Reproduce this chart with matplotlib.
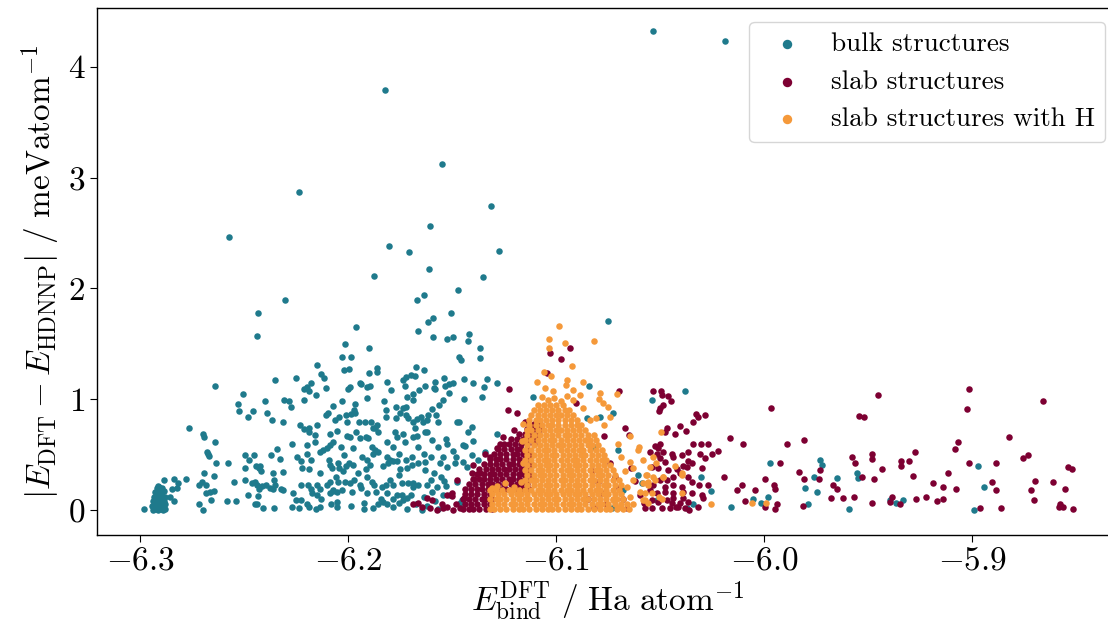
import numpy as np
import matplotlib.pyplot as plt

plt.rcParams['font.family'] = 'serif'
plt.rcParams['font.serif'] = ['cmr10']
plt.rcParams['mathtext.fontset'] = 'cm'
plt.rcParams['axes.formatter.use_mathtext'] = True

# (E_bind^DFT, |E_DFT - E_HDNNP|)
bulk_pts = [
    (-6.0536, 4.32), (-6.019, 4.23), (-6.1825, 3.79), (-6.155, 3.12), (-6.2238, 2.87), (-6.1315, 2.74),
    (-6.2575, 2.46), (-6.1609, 2.56), (-6.1805, 2.38), (-6.1277, 2.34), (-6.1709, 2.33), (-6.1613, 2.18),
    (-6.1353, 2.10), (-6.1878, 2.11), (-6.2305, 1.90), (-6.2435, 1.78), (-6.244, 1.57), (-6.1962, 1.65),
    (-6.0752, 1.71), (-6.1474, 1.99), (-6.1637, 1.94), (-6.1671, 1.90), (-6.1507, 1.78), (-6.1594, 1.73),
    (-6.1618, 1.70), (-6.1666, 1.62), (-6.1421, 1.59), (-6.1425, 1.53), (-6.1594, 1.56), (-6.1527, 1.54),
    (-6.1498, 1.56), (-6.2017, 1.50), (-6.1901, 1.46), (-6.1368, 1.46), (-6.2031, 1.38), (-6.1988, 1.38),
    (-6.1469, 1.38), (-6.1459, 1.35), (-6.1368, 1.37), (-6.2022, 1.26), (-6.1998, 1.27), (-6.1901, 1.24),
    (-6.1863, 1.28), (-6.1863, 1.25), (-6.1675, 1.29), (-6.1637, 1.26), (-6.1815, 1.16), (-6.1738, 1.17),
    (-6.1724, 1.20), (-6.17, 1.22), (-6.168, 1.21), (-6.1728, 1.12), (-6.1584, 1.16), (-6.1541, 1.19),
    (-6.1517, 1.14), (-6.1445, 1.18), (-6.1401, 1.15), (-6.1334, 1.18), (-6.1349, 1.11), (-6.194, 1.14),
    (-6.1911, 1.11), (-6.1897, 1.12), (-6.1993, 1.11), (-6.2002, 1.09), (-6.1796, 1.08), (-6.1661, 1.08),
    (-6.1632, 1.12), (-6.1589, 1.10), (-6.1517, 1.06), (-6.169, 1.05), (-6.2151, 1.31), (-6.2132, 1.23),
    (-6.2118, 1.19), (-6.2353, 1.17), (-6.2252, 1.19), (-6.218, 1.15), (-6.2199, 1.11), (-6.2214, 1.09),
    (-6.219, 1.07), (-6.2108, 1.10), (-6.2156, 1.04), (-6.2642, 1.12), (-6.2507, 1.05), (-6.1945, 1.15),
    (-6.2401, 0.98), (-6.231, 0.99), (-6.2286, 0.98), (-6.2276, 0.93), (-6.2214, 0.99), (-6.2075, 0.94),
    (-6.2031, 0.98), (-6.1969, 0.96), (-6.1974, 0.90), (-6.1911, 1.01), (-6.1829, 0.98), (-6.1772, 0.93),
    (-6.1738, 0.92), (-6.1719, 1.02), (-6.169, 0.99), (-6.1724, 0.93),
    (-6.2531, 0.96), (-6.2526, 0.89), (-6.2459, 0.89), (-6.2483, 0.84), (-6.2392, 0.88), (-6.2368, 0.81),
    (-6.2315, 0.79), (-6.2233, 0.77), (-6.219, 0.74), (-6.2151, 0.77), (-6.2108, 0.86), (-6.2099, 0.88),
    (-6.2065, 0.81), (-6.2046, 0.84), (-6.2012, 0.86), (-6.2007, 0.79), (-6.1988, 0.87), (-6.1969, 0.88),
    (-6.1949, 0.79), (-6.1921, 0.79), (-6.1892, 0.79), (-6.1873, 0.74), (-6.1863, 0.77), (-6.182, 0.90),
    (-6.182, 0.84), (-6.1772, 0.83), (-6.1752, 0.88), (-6.1724, 0.86), (-6.1714, 0.83), (-6.169, 0.79),
    (-6.1671, 0.82),
    (-6.2767, 0.74), (-6.27, 0.69), (-6.2695, 0.66), (-6.2642, 0.61), (-6.2272, 0.60), (-6.2214, 0.73),
    (-6.219, 0.70), (-6.2161, 0.68), (-6.2161, 0.61), (-6.2089, 0.69), (-6.2055, 0.71), (-6.2007, 0.67),
    (-6.1993, 0.66), (-6.1964, 0.70), (-6.1945, 0.65), (-6.1916, 0.66), (-6.1906, 0.65), (-6.1882, 0.74),
    (-6.1858, 0.70), (-6.1815, 0.61), (-6.1776, 0.70), (-6.1767, 0.66), (-6.1738, 0.69), (-6.1728, 0.61),
    (-6.169, 0.66), (-6.1671, 0.67), (-6.168, 0.74),
    (-6.268, 0.52), (-6.2671, 0.49), (-6.2675, 0.51), (-6.2498, 0.50), (-6.2454, 0.50), (-6.2373, 0.50),
    (-6.2344, 0.55), (-6.2329, 0.46), (-6.2248, 0.48), (-6.22, 0.59), (-6.22, 0.51), (-6.2137, 0.52),
    (-6.2123, 0.54), (-6.2103, 0.56), (-6.2089, 0.59), (-6.2075, 0.61), (-6.2036, 0.57), (-6.2022, 0.50),
    (-6.1978, 0.56), (-6.1935, 0.48), (-6.1911, 0.45), (-6.1887, 0.57), (-6.1873, 0.54), (-6.1882, 0.51),
    (-6.1858, 0.52), (-6.1815, 0.48), (-6.18, 0.45), (-6.1786, 0.57), (-6.1757, 0.51), (-6.1724, 0.45),
    (-6.1695, 0.48), (-6.1666, 0.57),
    (-6.2637, 0.42), (-6.2579, 0.42), (-6.2498, 0.38), (-6.2478, 0.45), (-6.2445, 0.40), (-6.243, 0.38),
    (-6.2421, 0.35), (-6.2425, 0.40), (-6.2363, 0.33), (-6.2315, 0.34), (-6.2228, 0.44), (-6.2224, 0.38),
    (-6.219, 0.37), (-6.218, 0.45), (-6.2137, 0.33), (-6.2094, 0.45), (-6.2089, 0.41), (-6.2079, 0.38),
    (-6.205, 0.42), (-6.2046, 0.38), (-6.2012, 0.40), (-6.1998, 0.42), (-6.1978, 0.41), (-6.2026, 0.35),
    (-6.1954, 0.33), (-6.1916, 0.37), (-6.1897, 0.41), (-6.1834, 0.40), (-6.181, 0.42), (-6.1786, 0.44),
    (-6.1767, 0.44), (-6.1752, 0.37), (-6.1719, 0.38), (-6.1695, 0.41), (-6.1666, 0.42),
    (-6.2887, 0.27), (-6.2839, 0.28), (-6.282, 0.24), (-6.2825, 0.20), (-6.2781, 0.28), (-6.2719, 0.23),
    (-6.2704, 0.25), (-6.2695, 0.33), (-6.2685, 0.23), (-6.2647, 0.31), (-6.255, 0.25), (-6.2498, 0.27),
    (-6.2464, 0.24), (-6.245, 0.25), (-6.244, 0.23), (-6.2416, 0.22), (-6.2397, 0.23), (-6.2358, 0.27),
    (-6.2353, 0.23), (-6.2324, 0.19), (-6.2228, 0.23), (-6.2195, 0.23), (-6.218, 0.19), (-6.2151, 0.23),
    (-6.2137, 0.19), (-6.2103, 0.23), (-6.2089, 0.25), (-6.206, 0.30), (-6.205, 0.25), (-6.2075, 0.18),
    (-6.2017, 0.25), (-6.1993, 0.24), (-6.1974, 0.27), (-6.1945, 0.23), (-6.1911, 0.30), (-6.1887, 0.25),
    (-6.1877, 0.23), (-6.1839, 0.21), (-6.182, 0.23), (-6.18, 0.27), (-6.1786, 0.23), (-6.1757, 0.32),
    (-6.1743, 0.24), (-6.1714, 0.24), (-6.169, 0.24), (-6.1666, 0.23), (-6.169, 0.21),
    (-6.2849, 0.19), (-6.2858, 0.12), (-6.2839, 0.08), (-6.2685, 0.15), (-6.2666, 0.16), (-6.2647, 0.17),
    (-6.2661, 0.09), (-6.2584, 0.08), (-6.2541, 0.08), (-6.2483, 0.14), (-6.243, 0.19), (-6.2435, 0.13),
    (-6.2377, 0.20), (-6.2363, 0.19), (-6.2315, 0.18), (-6.2267, 0.15), (-6.2252, 0.09), (-6.2228, 0.09),
    (-6.2175, 0.15), (-6.2151, 0.14), (-6.2132, 0.10), (-6.2089, 0.15), (-6.2075, 0.17), (-6.2055, 0.16),
    (-6.2031, 0.18), (-6.1983, 0.16), (-6.194, 0.20), (-6.1911, 0.15), (-6.1868, 0.16), (-6.1844, 0.10),
    (-6.1815, 0.15), (-6.1786, 0.10), (-6.1767, 0.14), (-6.1743, 0.14), (-6.1719, 0.11), (-6.17, 0.14),
    (-6.2983, 0.01), (-6.2719, 0.05), (-6.27, 0.00), (-6.245, 0.05), (-6.244, 0.05), (-6.2411, 0.02),
    (-6.2358, 0.02), (-6.2272, 0.03), (-6.2238, 0.02), (-6.22, 0.05), (-6.219, 0.03), (-6.2156, 0.01),
    (-6.2137, 0.03), (-6.2084, 0.05), (-6.2055, 0.07), (-6.2055, 0.03), (-6.1988, 0.04), (-6.1925, 0.06),
    (-6.1925, 0.01), (-6.1882, 0.02), (-6.1858, 0.05), (-6.1834, 0.07), (-6.1815, 0.05), (-6.1786, 0.03),
    (-6.1757, 0.06), (-6.1738, 0.09), (-6.1719, 0.01), (-6.1676, 0.05),
    (-6.2938, 0.00), (-6.2927, 0.01), (-6.2915, 0.00), (-6.2903, 0.01), (-6.2892, 0.00), (-6.2880, 0.01),
    (-6.2942, 0.04), (-6.2930, 0.05), (-6.2918, 0.04), (-6.2905, 0.05), (-6.2893, 0.04), (-6.2880, 0.05),
    (-6.2940, 0.08), (-6.2925, 0.09), (-6.2912, 0.08), (-6.2900, 0.09), (-6.2886, 0.08), (-6.2934, 0.12),
    (-6.2920, 0.13), (-6.2908, 0.12), (-6.2895, 0.13), (-6.2884, 0.12), (-6.2930, 0.16), (-6.2915, 0.17),
    (-6.2902, 0.16), (-6.2888, 0.17), (-6.2922, 0.20), (-6.2910, 0.21), (-6.2898, 0.20), (-6.2915, 0.22),
    (-6.1584, 1.09), (-6.1536, 1.12), (-6.1498, 1.15), (-6.1286, 1.15), (-6.1358, 1.02), (-6.1445, 1.00),
    (-6.1546, 0.99), (-6.1565, 0.95), (-6.1599, 0.91), (-6.158, 0.86), (-6.1618, 0.86), (-6.1651, 0.84),
    (-6.1623, 0.81), (-6.1642, 0.79), (-6.157, 0.79), (-6.1478, 0.79), (-6.1469, 0.79), (-6.1406, 0.75),
    (-6.1425, 0.70), (-6.1632, 0.70), (-6.1623, 0.70), (-6.1599, 0.63), (-6.1531, 0.64), (-6.1526, 0.60),
    (-6.157, 0.57), (-6.145, 0.59), (-6.1401, 0.62), (-6.1344, 0.52), (-6.1637, 0.51), (-6.1603, 0.48),
    (-6.1546, 0.48), (-6.1498, 0.53), (-6.1483, 0.48), (-6.145, 0.43), (-6.1632, 0.43), (-6.156, 0.42),
    (-6.1526, 0.39), (-6.1488, 0.42), (-6.1632, 0.36), (-6.1603, 0.27), (-6.1589, 0.33), (-6.1555, 0.30),
    (-6.1541, 0.26), (-6.1531, 0.22), (-6.1478, 0.25), (-6.1623, 0.23), (-6.1599, 0.16), (-6.1575, 0.21),
    (-6.1512, 0.14), (-6.1637, 0.12), (-6.1584, 0.08), (-6.1546, 0.14), (-6.1623, 0.04), (-6.1647, 0.00),
    (-6.157, 0.01), (-6.1377, 0.45), (-6.143, 0.39), (-6.1406, 0.50), (-6.144, 0.58), (-6.1464, 0.06),
    (-6.1455, 0.09),
    (-6.0844, 1.12), (-6.0382, 1.07), (-6.0541, 0.99), (-6.1113, 1.02), (-6.1286, 0.69),
    (-6.0853, 0.83), (-6.0791, 0.84), (-6.0728, 0.88), (-6.0704, 0.54), (-6.082, 0.57), (-6.0608, 0.32),
    (-6.0589, 0.24), (-6.068, 0.18), (-6.0733, 0.02), (-6.0517, 0.09), (-6.0344, 0.05),
    (-6.0305, 0.30), (-6.0257, 0.17), (-6.0161, 0.03), (-5.9974, 0.42), (-5.9733, 0.45), (-5.9724, 0.41),
    (-5.9762, 0.30), (-5.9652, 0.29), (-5.9555, 0.33), (-5.955, 0.29), (-5.9805, 0.20), (-5.9747, 0.16),
    (-5.9983, 0.12), (-6.0055, 0.10), (-6.0017, 0.06), (-5.9791, 0.05), (-5.9594, 0.01), (-5.9397, 0.09),
    (-5.9368, 0.06), (-5.9334, 0.09), (-5.8974, 0.40), (-5.8945, 0.21), (-5.8993, 0.00), (-6.0372, 0.02),
]

slab_pts = [
    # sparse points on the right
    (-6.0536, 1.07), (-6.0498, 1.07), (-6.0493, 1.04), (-6.0464, 1.03), (-6.045, 0.98), (-6.0488, 0.95),
    (-6.0502, 0.92), (-6.0507, 0.89), (-6.033, 0.87), (-6.032, 0.84), (-6.0286, 0.86), (-6.0344, 0.79),
    (-5.9969, 0.92), (-5.9454, 1.04), (-5.9546, 0.85), (-5.9522, 0.84), (-5.9017, 1.09), (-5.9026, 0.91),
    (-5.8661, 0.98), (-5.8825, 0.66), (-5.907, 0.61), (-5.9084, 0.55), (-5.9017, 0.42), (-5.8887, 0.42),
    (-5.8733, 0.50), (-5.8757, 0.47), (-5.854, 0.39), (-5.8521, 0.37), (-5.87, 0.26), (-5.8613, 0.25),
    (-5.8719, 0.18), (-5.8704, 0.09), (-5.8555, 0.19), (-5.8579, 0.05), (-5.8565, 0.03), (-5.8517, 0.01),
    (-5.8584, 0.03), (-5.8863, 0.02), (-5.8964, 0.02), (-5.8906, 0.25), (-5.8887, 0.18), (-5.9118, 0.33),
    (-5.9142, 0.21), (-5.919, 0.24), (-5.9079, 0.19), (-5.9142, 0.10), (-5.917, 0.08), (-5.9223, 0.12),
    (-5.9272, 0.10), (-5.9276, 0.52), (-5.9305, 0.44), (-5.9344, 0.44), (-5.9344, 0.40), (-5.9286, 0.31),
    (-5.9435, 0.37), (-5.9483, 0.51), (-5.9483, 0.46), (-5.958, 0.48), (-5.9565, 0.42), (-5.9531, 0.30),
    (-5.9474, 0.28), (-5.967, 0.23), (-5.9652, 0.19), (-5.968, 0.11), (-5.9623, 0.11), (-5.957, 0.12),
    (-5.9483, 0.06), (-5.9397, 0.07), (-5.9387, 0.12), (-5.9349, 0.05), (-5.9733, 0.36), (-5.9738, 0.28),
    (-5.981, 0.28), (-5.9834, 0.34), (-5.981, 0.63), (-5.9892, 0.60), (-5.9925, 0.42), (-5.9955, 0.23),
    (-5.995, 0.19), (-5.9998, 0.28), (-6.0046, 0.18), (-6.0108, 0.23), (-6.0132, 0.18), (-6.0093, 0.08),
    (-5.9998, 0.03), (-5.995, 0.01), (-5.994, 0.05), (-5.9815, 0.04), (-6.0103, 0.60), (-6.0166, 0.65),
    (-6.0195, 0.30), (-6.0224, 0.53), (-6.0253, 0.51), (-6.0272, 0.60), (-6.0305, 0.60), (-6.031, 0.51),
    (-6.0286, 0.47), (-6.03, 0.38), (-6.0272, 0.23), (-6.0314, 0.23), (-6.0348, 0.15), (-6.03, 0.14),
    (-6.0295, 0.11), (-6.032, 0.03), (-6.0363, 0.00), (-6.0368, 0.07), (-6.0392, 0.11), (-6.0406, 0.06),
    (-6.0425, 0.03), (-6.0445, 0.06), (-6.044, 0.11), (-6.042, 0.37), (-6.043, 0.69), (-6.0406, 0.76),
    (-6.0377, 0.71), (-6.0469, 0.74), (-6.0478, 0.70), (-6.0502, 0.60), (-6.0526, 0.58), (-6.0512, 0.56),
    (-6.055, 0.52), (-6.0517, 0.51), (-6.0488, 0.52), (-6.0445, 0.51), (-6.044, 0.48), (-6.0397, 0.50),
    (-6.0368, 0.52), (-6.0344, 0.60), (-6.0368, 0.44), (-6.0392, 0.40), (-6.0372, 0.39), (-6.0348, 0.42),
    (-6.0478, 0.43), (-6.0502, 0.47), (-6.0541, 0.39), (-6.0512, 0.38), (-6.0464, 0.36), (-6.0406, 0.33),
    (-6.0368, 0.30), (-6.044, 0.30), (-6.0469, 0.27), (-6.0502, 0.27), (-6.0536, 0.23), (-6.0478, 0.21),
    (-6.044, 0.23), (-6.0397, 0.21), (-6.0348, 0.25), (-6.055, 0.18), (-6.0517, 0.15), (-6.0478, 0.16),
    (-6.044, 0.15), (-6.0392, 0.16), (-6.0541, 0.09), (-6.0512, 0.07), (-6.0469, 0.09), (-6.0574, 0.02),
    (-6.0541, 0.02), (-6.0493, 0.02), (-6.0454, 0.02), (-6.0416, 0.03), (-6.0382, 0.02),
    (-6.083, 0.35), (-6.080, 0.25), (-6.078, 0.15), (-6.076, 0.05), (-6.074, 0.42), (-6.072, 0.30),
    (-6.070, 0.20), (-6.068, 0.10), (-6.066, 0.02), (-6.064, 0.38), (-6.062, 0.26), (-6.060, 0.14),
    (-6.058, 0.06), (-6.085, 0.10), (-6.082, 0.02),
    # around the main cluster
    (-6.1029, 1.42), (-6.0976, 1.36), (-6.0933, 1.46), (-6.1228, 1.09), (-6.1233, 0.90), (-6.119, 0.88),
    (-6.07, 1.07), (-6.0671, 0.74), (-6.0652, 0.68), (-6.1046, 1.24), (-6.0906, 0.97), (-6.0772, 0.67),
    (-6.1402, 0.41), (-6.1406, 0.33), (-6.1502, 0.15), (-6.1344, 0.51), (-6.1368, 0.33), (-6.1272, 0.60),
    (-6.1286, 0.56), (-6.132, 0.48), (-6.1255, 0.66), (-6.1205, 0.72), (-6.1150, 0.79), (-6.1395, 0.28),
    (-6.169, 0.05), (-6.1666, 0.06), (-6.1647, 0.03), (-6.1623, 0.11), (-6.1599, 0.09), (-6.1608, 0.02),
    (-6.1575, 0.00), (-6.155, 0.05), (-6.1526, 0.14), (-6.1502, 0.13), (-6.1478, 0.27), (-6.1498, 0.00),
    (-6.1546, 0.02), (-6.1526, 0.03), (-6.1483, 0.05), (-6.1464, 0.02), (-6.1445, 0.11),
    # dense cluster
    (-6.145, 0.01), (-6.142, 0.01), (-6.140, 0.01), (-6.137, 0.01), (-6.134, 0.01), (-6.131, 0.01),
    (-6.144, 0.055), (-6.141, 0.055), (-6.138, 0.055), (-6.135, 0.055), (-6.132, 0.055),
    (-6.145, 0.10), (-6.142, 0.10), (-6.139, 0.10), (-6.136, 0.10), (-6.134, 0.10), (-6.131, 0.10),
    (-6.144, 0.145), (-6.141, 0.145), (-6.138, 0.145), (-6.135, 0.145), (-6.132, 0.145),
    (-6.144, 0.19), (-6.141, 0.19), (-6.138, 0.19), (-6.136, 0.19), (-6.133, 0.19), (-6.130, 0.19),
    (-6.127, 0.19), (-6.124, 0.19), (-6.121, 0.19), (-6.119, 0.19), (-6.116, 0.19), (-6.113, 0.19),
    (-6.142, 0.235), (-6.139, 0.235), (-6.136, 0.235), (-6.133, 0.235), (-6.131, 0.235), (-6.128, 0.235),
    (-6.125, 0.235), (-6.122, 0.235), (-6.119, 0.235), (-6.117, 0.235), (-6.114, 0.235),
    (-6.140, 0.28), (-6.137, 0.28), (-6.135, 0.28), (-6.132, 0.28), (-6.129, 0.28), (-6.126, 0.28),
    (-6.123, 0.28), (-6.121, 0.28), (-6.118, 0.28), (-6.115, 0.28), (-6.112, 0.28),
    (-6.138, 0.325), (-6.135, 0.325), (-6.132, 0.325), (-6.130, 0.325), (-6.127, 0.325), (-6.124, 0.325),
    (-6.121, 0.325), (-6.118, 0.325), (-6.116, 0.325), (-6.113, 0.325),
    (-6.137, 0.37), (-6.134, 0.37), (-6.131, 0.37), (-6.128, 0.37), (-6.125, 0.37), (-6.123, 0.37),
    (-6.120, 0.37), (-6.117, 0.37), (-6.114, 0.37),
    (-6.135, 0.415), (-6.132, 0.415), (-6.129, 0.415), (-6.126, 0.415), (-6.123, 0.415), (-6.121, 0.415),
    (-6.118, 0.415), (-6.115, 0.415), (-6.112, 0.415),
    (-6.132, 0.46), (-6.129, 0.46), (-6.127, 0.46), (-6.124, 0.46), (-6.121, 0.46), (-6.118, 0.46),
    (-6.115, 0.46), (-6.113, 0.46),
    (-6.130, 0.505), (-6.127, 0.505), (-6.124, 0.505), (-6.121, 0.505), (-6.119, 0.505), (-6.116, 0.505),
    (-6.113, 0.505),
    (-6.128, 0.55), (-6.125, 0.55), (-6.122, 0.55), (-6.119, 0.55), (-6.117, 0.55), (-6.114, 0.55),
    (-6.125, 0.595), (-6.123, 0.595), (-6.120, 0.595), (-6.117, 0.595), (-6.114, 0.595), (-6.111, 0.595),
    (-6.122, 0.64), (-6.119, 0.64), (-6.116, 0.64), (-6.113, 0.64), (-6.110, 0.64),
    (-6.118, 0.685), (-6.115, 0.685), (-6.112, 0.685), (-6.109, 0.685),
    (-6.114, 0.73), (-6.111, 0.73), (-6.108, 0.73),
    (-6.111, 0.775), (-6.108, 0.775),
]

slab_H_pts = [
    # sparse points
    (-6.0988, 1.66), (-6.1036, 1.54), (-6.096, 1.51), (-6.082, 1.53), (-6.1036, 1.46), (-6.0926, 1.30),
    (-6.106, 1.25), (-6.1027, 1.21), (-6.1094, 1.16), (-6.095, 1.17), (-6.0873, 1.16), (-6.0955, 1.13),
    (-6.0921, 1.08), (-6.1055, 1.10), (-6.1017, 1.07), (-6.0887, 1.04), (-6.0791, 1.06), (-6.0709, 1.05),
    (-6.0796, 1.00), (-6.0776, 0.97), (-6.0752, 0.93), (-6.0873, 0.92), (-6.0743, 0.84), (-6.081, 0.83),
    (-6.0839, 0.81), (-6.0772, 0.77), (-6.0647, 0.67), (-6.0604, 0.57), (-6.0608, 0.54), (-6.0647, 0.43),
    (-6.0633, 0.38), (-6.0565, 0.32), (-6.0527, 0.27), (-6.056, 0.23), (-6.0633, 0.27), (-6.0661, 0.21),
    (-6.0599, 0.16), (-6.0647, 0.12), (-6.0575, 0.09), (-6.0633, 0.05), (-6.0695, 0.03), (-6.0488, 0.30),
    (-6.0397, 0.33), (-6.0507, 0.12), (-6.0728, 0.09), (-6.0498, 0.70), (-6.0584, 0.45), (-6.0536, 0.48),
    (-6.0522, 0.42), (-6.055, 0.39), (-6.043, 0.40), (-6.0397, 0.32), (-6.0569, 0.32), (-6.0536, 0.30),
    (-6.0488, 0.30), (-6.0584, 0.24), (-6.056, 0.25), (-6.0397, 0.15), (-6.0574, 0.15), (-6.0541, 0.15),
    (-6.0584, 0.09), (-6.056, 0.06), (-6.0493, 0.10), (-6.0257, 0.05), (-6.006, 0.06), (-5.9993, 0.06),
    (-6.1070, 1.02), (-6.1010, 1.01), (-6.0950, 1.03), (-6.1040, 0.99), (-6.0980, 0.98), (-6.0920, 0.99),
    (-6.1285, 0.22), (-6.1245, 0.24), (-6.1205, 0.21), (-6.1170, 0.25), (-6.1310, 0.20), (-6.1160, 0.42),
    (-6.1165, 0.62), (-6.1160, 0.78), (-6.0705, 0.60), (-6.0690, 0.48), (-6.0670, 0.35),
    # dense cluster
    (-6.132, 0.01), (-6.130, 0.01), (-6.127, 0.01), (-6.124, 0.01), (-6.121, 0.01), (-6.118, 0.01),
    (-6.116, 0.01), (-6.113, 0.01), (-6.110, 0.01), (-6.107, 0.01), (-6.104, 0.01), (-6.102, 0.01),
    (-6.099, 0.01), (-6.096, 0.01), (-6.093, 0.01), (-6.090, 0.01), (-6.088, 0.01), (-6.085, 0.01),
    (-6.082, 0.01), (-6.079, 0.01), (-6.076, 0.01), (-6.074, 0.01), (-6.071, 0.01), (-6.068, 0.01),
    (-6.065, 0.01),
    (-6.131, 0.055), (-6.128, 0.055), (-6.125, 0.055), (-6.122, 0.055), (-6.120, 0.055), (-6.117, 0.055),
    (-6.114, 0.055), (-6.111, 0.055), (-6.108, 0.055), (-6.106, 0.055), (-6.103, 0.055), (-6.100, 0.055),
    (-6.097, 0.055), (-6.094, 0.055), (-6.092, 0.055), (-6.089, 0.055), (-6.086, 0.055), (-6.083, 0.055),
    (-6.080, 0.055), (-6.078, 0.055), (-6.075, 0.055), (-6.072, 0.055), (-6.069, 0.055), (-6.066, 0.055),
    (-6.132, 0.10), (-6.129, 0.10), (-6.127, 0.10), (-6.124, 0.10), (-6.121, 0.10), (-6.118, 0.10),
    (-6.115, 0.10), (-6.113, 0.10), (-6.110, 0.10), (-6.107, 0.10), (-6.104, 0.10), (-6.101, 0.10),
    (-6.099, 0.10), (-6.096, 0.10), (-6.093, 0.10), (-6.090, 0.10), (-6.087, 0.10), (-6.085, 0.10),
    (-6.082, 0.10), (-6.079, 0.10), (-6.076, 0.10), (-6.073, 0.10), (-6.071, 0.10), (-6.068, 0.10),
    (-6.131, 0.145), (-6.128, 0.145), (-6.125, 0.145), (-6.122, 0.145), (-6.119, 0.145), (-6.117, 0.145),
    (-6.114, 0.145), (-6.111, 0.145), (-6.108, 0.145), (-6.105, 0.145), (-6.103, 0.145), (-6.100, 0.145),
    (-6.097, 0.145), (-6.094, 0.145), (-6.091, 0.145), (-6.089, 0.145), (-6.086, 0.145), (-6.083, 0.145),
    (-6.080, 0.145), (-6.077, 0.145), (-6.075, 0.145), (-6.072, 0.145), (-6.069, 0.145),
    (-6.132, 0.185), (-6.129, 0.185), (-6.126, 0.185), (-6.123, 0.185), (-6.121, 0.185), (-6.118, 0.185),
    (-6.115, 0.185), (-6.112, 0.185), (-6.109, 0.185), (-6.107, 0.185), (-6.104, 0.185), (-6.101, 0.185),
    (-6.098, 0.185), (-6.095, 0.185), (-6.093, 0.185), (-6.090, 0.185), (-6.087, 0.185), (-6.084, 0.185),
    (-6.081, 0.185), (-6.079, 0.185), (-6.076, 0.185), (-6.073, 0.185), (-6.070, 0.185),
    (-6.114, 0.23), (-6.111, 0.23), (-6.108, 0.23), (-6.105, 0.23), (-6.103, 0.23), (-6.100, 0.23),
    (-6.097, 0.23), (-6.094, 0.23), (-6.091, 0.23), (-6.089, 0.23), (-6.086, 0.23), (-6.083, 0.23),
    (-6.080, 0.23), (-6.077, 0.23), (-6.075, 0.23), (-6.072, 0.23), (-6.069, 0.23),
    (-6.115, 0.275), (-6.112, 0.275), (-6.110, 0.275), (-6.107, 0.275), (-6.104, 0.275), (-6.101, 0.275),
    (-6.098, 0.275), (-6.096, 0.275), (-6.093, 0.275), (-6.090, 0.275), (-6.087, 0.275), (-6.084, 0.275),
    (-6.082, 0.275), (-6.079, 0.275), (-6.076, 0.275), (-6.073, 0.275), (-6.070, 0.275),
    (-6.114, 0.32), (-6.111, 0.32), (-6.108, 0.32), (-6.106, 0.32), (-6.103, 0.32), (-6.100, 0.32),
    (-6.097, 0.32), (-6.094, 0.32), (-6.092, 0.32), (-6.089, 0.32), (-6.086, 0.32), (-6.083, 0.32),
    (-6.080, 0.32), (-6.078, 0.32), (-6.075, 0.32), (-6.072, 0.32),
    (-6.115, 0.365), (-6.112, 0.365), (-6.109, 0.365), (-6.107, 0.365), (-6.104, 0.365), (-6.101, 0.365),
    (-6.098, 0.365), (-6.095, 0.365), (-6.093, 0.365), (-6.090, 0.365), (-6.087, 0.365), (-6.084, 0.365),
    (-6.081, 0.365), (-6.079, 0.365), (-6.076, 0.365), (-6.073, 0.365),
    (-6.114, 0.41), (-6.111, 0.41), (-6.108, 0.41), (-6.105, 0.41), (-6.103, 0.41), (-6.100, 0.41),
    (-6.097, 0.41), (-6.094, 0.41), (-6.091, 0.41), (-6.089, 0.41), (-6.086, 0.41), (-6.083, 0.41),
    (-6.080, 0.41), (-6.077, 0.41), (-6.074, 0.41),
    (-6.115, 0.455), (-6.112, 0.455), (-6.109, 0.455), (-6.106, 0.455), (-6.104, 0.455), (-6.101, 0.455),
    (-6.098, 0.455), (-6.095, 0.455), (-6.092, 0.455), (-6.090, 0.455), (-6.087, 0.455), (-6.084, 0.455),
    (-6.081, 0.455), (-6.078, 0.455), (-6.076, 0.455),
    (-6.114, 0.50), (-6.111, 0.50), (-6.108, 0.50), (-6.105, 0.50), (-6.102, 0.50), (-6.100, 0.50),
    (-6.097, 0.50), (-6.094, 0.50), (-6.091, 0.50), (-6.088, 0.50), (-6.086, 0.50), (-6.083, 0.50),
    (-6.080, 0.50), (-6.077, 0.50),
    (-6.115, 0.545), (-6.112, 0.545), (-6.109, 0.545), (-6.106, 0.545), (-6.104, 0.545), (-6.101, 0.545),
    (-6.098, 0.545), (-6.095, 0.545), (-6.092, 0.545), (-6.089, 0.545), (-6.087, 0.545), (-6.084, 0.545),
    (-6.081, 0.545), (-6.078, 0.545),
    (-6.114, 0.59), (-6.111, 0.59), (-6.108, 0.59), (-6.105, 0.59), (-6.102, 0.59), (-6.099, 0.59),
    (-6.097, 0.59), (-6.094, 0.59), (-6.091, 0.59), (-6.088, 0.59), (-6.085, 0.59), (-6.083, 0.59),
    (-6.080, 0.59),
    (-6.115, 0.635), (-6.112, 0.635), (-6.109, 0.635), (-6.106, 0.635), (-6.103, 0.635), (-6.101, 0.635),
    (-6.098, 0.635), (-6.095, 0.635), (-6.092, 0.635), (-6.089, 0.635), (-6.086, 0.635), (-6.084, 0.635),
    (-6.081, 0.635),
    (-6.114, 0.68), (-6.111, 0.68), (-6.108, 0.68), (-6.105, 0.68), (-6.102, 0.68), (-6.099, 0.68),
    (-6.096, 0.68), (-6.094, 0.68), (-6.091, 0.68), (-6.088, 0.68), (-6.085, 0.68), (-6.082, 0.68),
    (-6.114, 0.725), (-6.112, 0.725), (-6.109, 0.725), (-6.106, 0.725), (-6.103, 0.725), (-6.100, 0.725),
    (-6.098, 0.725), (-6.095, 0.725), (-6.092, 0.725), (-6.089, 0.725), (-6.086, 0.725),
    (-6.113, 0.77), (-6.110, 0.77), (-6.107, 0.77), (-6.104, 0.77), (-6.102, 0.77), (-6.099, 0.77),
    (-6.096, 0.77), (-6.093, 0.77), (-6.090, 0.77), (-6.088, 0.77),
    (-6.113, 0.815), (-6.110, 0.815), (-6.108, 0.815), (-6.105, 0.815), (-6.102, 0.815), (-6.099, 0.815),
    (-6.096, 0.815), (-6.093, 0.815), (-6.090, 0.815),
    (-6.112, 0.86), (-6.109, 0.86), (-6.106, 0.86), (-6.103, 0.86), (-6.100, 0.86), (-6.098, 0.86),
    (-6.095, 0.86), (-6.092, 0.86),
    (-6.111, 0.905), (-6.108, 0.905), (-6.105, 0.905), (-6.102, 0.905), (-6.099, 0.905), (-6.096, 0.905),
    (-6.094, 0.905),
    (-6.109, 0.95), (-6.106, 0.95), (-6.103, 0.95), (-6.100, 0.95), (-6.097, 0.95),
]

labels = ["bulk structures", "slab structures", "slab structures with H"]
colors = ["#1f7a8c", "#7d0032", "#f5993a"]

fig = plt.figure(figsize=(11.08, 6.28), dpi=100)
ax = fig.add_axes([0.0875, 0.148, 0.9224, 0.839])

for pts, lab, col in zip([bulk_pts, slab_pts, slab_H_pts], labels, colors):
    arr = np.array(pts)
    ax.scatter(arr[:, 0], arr[:, 1], s=22, color=col, linewidths=0, label=lab)

ax.set_xlim(-6.3209, -5.8295)
ax.set_ylim(-0.226, 4.53)
ax.set_xticks([-6.3, -6.2, -6.1, -6.0, -5.9])
ax.set_yticks([0, 1, 2, 3, 4])
ax.tick_params(labelsize=24, length=5)
for sp in ax.spines.values():
    sp.set_linewidth(1.0)

ax.set_xlabel(r'$E_\mathrm{bind}^\mathrm{DFT}\ /\ \mathrm{Ha\ atom}^{-1}$', fontsize=24, labelpad=3)
ax.set_ylabel(r'$|E_\mathrm{DFT}-E_\mathrm{HDNNP}|\ /\ \mathrm{meVatom}^{-1}$', fontsize=24, labelpad=4)

ax.legend(loc='upper right', fontsize=19.5, markerscale=1.45, handletextpad=0.6)

fig.savefig('out.png', dpi=100)
